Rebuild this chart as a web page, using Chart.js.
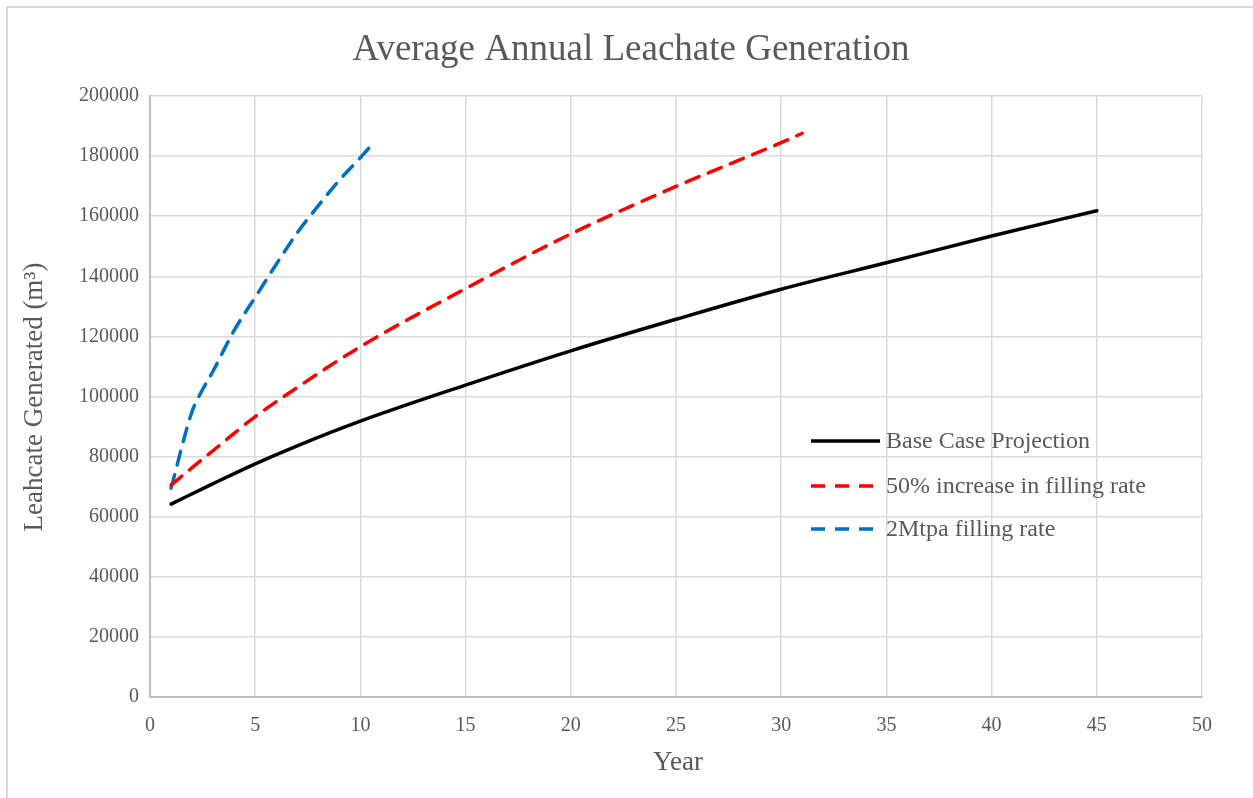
<!DOCTYPE html>
<html>
<head>
<meta charset="utf-8">
<script src="https://cdn.jsdelivr.net/npm/chart.js@4/dist/chart.umd.min.js"></script>
<style>
html,body{margin:0;padding:0;background:#fff;overflow:hidden;}
#wrap{position:absolute;left:0;top:0;width:1253px;height:798px;}
#frame{position:absolute;left:6px;top:6px;width:1300px;height:900px;border-top:2px solid #d9d9d9;border-left:2px solid #d9d9d9;pointer-events:none;}
</style>
</head>
<body>
<div id="wrap"><canvas id="c" width="1253" height="798"></canvas></div>
<div id="frame"></div>
<script>
const chartTitle = "Average Annual Leachate Generation";
const xTitle = "Year";
const yTitle = "Leahcate Generated (m³)";
const seriesNames = ["Base Case Projection", "50% increase in filling rate", "2Mtpa filling rate"];

const baseYears = [1, 3, 5, 7, 10, 15, 20, 25, 30, 35, 40, 45];
const baseValues = [64200, 71000, 77600, 83600, 91800, 103800, 115200, 125700, 135700, 144500, 153400, 161800];

const incYears = [1, 2, 3, 5, 7, 10, 15, 20, 25, 30, 31];
const incValues = [70500, 76300, 82000, 93300, 103000, 116600, 135900, 154100, 169900, 184500, 187600];

const mtpaYears = [1, 2, 2.4, 3, 4, 5, 6, 7, 8, 9, 10, 10.7];
const mtpaValues = [69500, 95000, 101000, 108500, 122000, 133000, 144000, 154500, 163500, 172000, 179500, 185000];

const xTicks = [0, 5, 10, 15, 20, 25, 30, 35, 40, 45, 50];
const yTicks = [0, 20000, 40000, 60000, 80000, 100000, 120000, 140000, 160000, 180000, 200000];

function pts(xs, ys){ return xs.map((x,i)=>({x:x, y:ys[i]})); }

const FONT = "'Liberation Serif','Times New Roman',serif";
const TXT = "#595959";

const overlay = {
  id: 'overlay',
  afterDraw(chart){
    const ctx = chart.ctx;
    const a = chart.chartArea;
    ctx.save();
    ctx.fillStyle = TXT;
    ctx.textAlign = 'center';
    ctx.textBaseline = 'middle';
    ctx.font = "37px " + FONT;
    ctx.fillText(chartTitle, 631, 50);
    ctx.font = "27px " + FONT;
    ctx.fillText(xTitle, 678, 763);
    ctx.save();
    ctx.translate(35, 397);
    ctx.rotate(-Math.PI/2);
    ctx.fillText(yTitle, 0, 0);
    ctx.restore();
    // legend
    ctx.font = "24px " + FONT;
    ctx.textAlign = 'left';
    const ys = [441, 486, 529];
    chart.data.datasets.forEach((ds, i) => {
      ctx.beginPath();
      ctx.strokeStyle = ds.borderColor;
      ctx.lineWidth = ds.borderWidth;
      ctx.setLineDash(ds.borderDash || []);
      ctx.moveTo(811, ys[i]);
      ctx.lineTo(880, ys[i]);
      ctx.stroke();
      ctx.setLineDash([]);
      ctx.fillStyle = TXT;
      ctx.fillText(ds.label, 886, ys[i] + 1);
    });
    ctx.restore();
  }
};

new Chart(document.getElementById('c'), {
  type: 'scatter',
  data: {
    datasets: [
      {label: seriesNames[0], data: pts(baseYears, baseValues), borderColor: '#000000', backgroundColor: '#000000', borderWidth: 3.5, showLine: true, pointRadius: 0, cubicInterpolationMode: 'monotone', borderCapStyle: 'round'},
      {label: seriesNames[1], data: pts(incYears, incValues), borderColor: '#ff0000', backgroundColor: '#ff0000', borderWidth: 3.5, borderDash: [14, 10], showLine: true, pointRadius: 0, cubicInterpolationMode: 'monotone', borderCapStyle: 'round'},
      {label: seriesNames[2], data: pts(mtpaYears, mtpaValues), borderColor: '#0070c0', backgroundColor: '#0070c0', borderWidth: 3.5, borderDash: [14, 10], showLine: true, pointRadius: 0, cubicInterpolationMode: 'monotone', borderCapStyle: 'round'}
    ]
  },
  options: {
    responsive: false,
    animation: false,
    devicePixelRatio: 1,
    layout: {padding: {left: 0, right: 51, top: 96, bottom: 0}},
    plugins: {legend: {display: false}, title: {display: false}, tooltip: {enabled: false}},
    scales: {
      x: {
        type: 'linear', min: 0, max: 50,
        afterBuildTicks: s => { s.ticks = xTicks.map(v => ({value: v})); },
        afterFit: s => { s.height = 101; },
        grid: {color: '#d9d9d9', lineWidth: 1.5, drawTicks: false},
        border: {color: '#bfbfbf', width: 2},
        ticks: {color: TXT, font: {family: FONT, size: 20}, padding: 17, maxRotation: 0}
      },
      y: {
        type: 'linear', min: 0, max: 200000,
        afterBuildTicks: s => { s.ticks = yTicks.map(v => ({value: v})); },
        afterFit: s => { s.width = 150; },
        grid: {color: '#d9d9d9', lineWidth: 1.5, drawTicks: false},
        border: {color: '#bfbfbf', width: 2},
        ticks: {color: TXT, font: {family: FONT, size: 20}, padding: 11, callback: v => String(v)}
      }
    }
  },
  plugins: [overlay]
});
</script>
</body>
</html>
